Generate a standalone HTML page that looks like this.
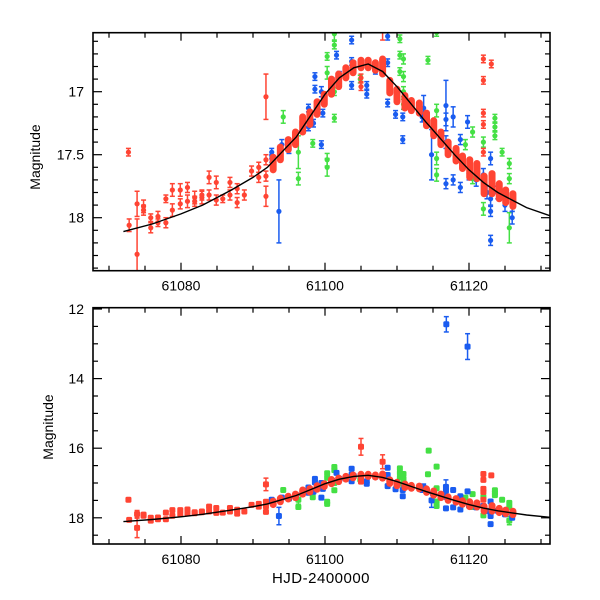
<!DOCTYPE html>
<html><head><meta charset="utf-8"><style>
html,body{margin:0;padding:0;background:#fff;}
svg{display:block;font-family:"Liberation Sans",sans-serif;}
</style></head><body>
<svg id="chart" width="600" height="600" viewBox="0 0 600 600" xmlns="http://www.w3.org/2000/svg">
<defs>
<clipPath id="clipTop"><rect x="93" y="33" width="457" height="238"/></clipPath>
<clipPath id="clipBot"><rect x="93" y="308" width="457" height="236"/></clipPath>
</defs>
<g id="topPanel"></g>
<g id="botPanel"></g>
<text x="0" y="0" transform="translate(40,157) rotate(-90)" text-anchor="middle" font-size="14">Magnitude</text>
<text x="0" y="0" transform="translate(53,427) rotate(-90)" text-anchor="middle" font-size="14">Magnitude</text>
<text x="321" y="583" text-anchor="middle" font-size="15" letter-spacing="0.5">HJD-2400000</text>
</svg>
<script>
// ---- data ----
const modelDays=[61072,61076,61080,61083,61087,61090,61092,61094,61096,61098,61100,61102,61104,61106,61108,61110,61112,61114,61116,61118,61120,61122,61124,61126,61128,61131.5];
const modelMags=[18.11,18.05,17.97,17.9,17.78,17.68,17.6,17.48,17.36,17.19,17.02,16.89,16.81,16.78,16.84,16.96,17.1,17.24,17.37,17.5,17.62,17.72,17.8,17.86,17.92,17.99];

const redDays=[61072.7,61072.8,61073.9,61073.9,61074.8,61074.8,61075.8,61075.8,61076.8,61076.8,61077.9,61077.9,61078.8,61078.8,61079.9,61079.9,61080.9,61080.9,61081.9,61081.9,61082.9,61082.9,61083.9,61083.9,61084.9,61084.9,61085.8,61086.8,61086.8,61087.8,61087.8,61088.8,61089.8,61090.8,61090.8,61091.8,61091.8,61091.8,61091.8,61105,61105,61105,61108,61122,61123.1,61122,61122,61122,61122];
const redMags=[17.48,18.06,17.89,18.29,17.91,17.94,18.0,18.08,17.99,18.04,17.85,18.04,17.78,17.94,17.78,17.89,17.76,17.87,17.84,17.87,17.82,17.84,17.68,17.82,17.72,17.86,17.85,17.72,17.82,17.77,17.88,17.82,17.63,17.6,17.68,17.04,17.54,17.67,17.83,15.96,16.89,16.96,16.39,16.74,16.78,16.91,17.17,17.26,17.48];
const redErrs=[0.03,0.05,0.1,0.28,0.05,0.04,0.03,0.04,0.04,0.03,0.03,0.04,0.05,0.05,0.05,0.04,0.04,0.05,0.05,0.04,0.04,0.05,0.05,0.04,0.05,0.04,0.03,0.04,0.04,0.04,0.04,0.04,0.04,0.04,0.04,0.18,0.04,0.04,0.08,0.24,0.03,0.03,0.2,0.03,0.03,0.03,0.03,0.03,0.03];

const clusterDays=[61092.8,61093.8,61094.9,61095.9,61096.9,61097.9,61098.9,61099.9,61100.9,61101.9,61102.9,61103.9,61105,61106,61107,61108,61109,61110,61111.1,61112,61113.1,61114.1,61115.1,61116.1,61117.1,61118.2,61119.1,61120.1,61121.1,61122.1,61123.2,61124.2,61125.1,61126.1];
const clusterMags=[17.57,17.49,17.42,17.37,17.26,17.21,17.13,17.06,16.96,16.91,16.85,16.81,16.78,16.78,16.8,16.8,16.96,17.03,17.08,17.11,17.13,17.22,17.29,17.37,17.45,17.5,17.56,17.61,17.63,17.74,17.73,17.79,17.83,17.86];
const clusterSpread=[0.05,0.05,0.04,0.05,0.06,0.05,0.05,0.04,0.06,0.05,0.04,0.04,0.03,0.03,0.03,0.06,0.05,0.05,0.05,0.04,0.04,0.05,0.06,0.05,0.05,0.05,0.05,0.07,0.06,0.07,0.08,0.06,0.05,0.05];

const blueDays=[61092.6,61092.6,61093.6,61097.7,61097.7,61098.6,61098.6,61098.4,61099.5,61099.5,61099.7,61101.6,61103.7,61103.7,61103.7,61105.8,61105.8,61108.7,61108.7,61108.7,61109.8,61110.8,61110.8,61113.7,61114.8,61116.8,61116.8,61116.8,61117.8,61117.8,61116.8,61119.8,61118.8,61118.8,61122,61123,61123,61123,61126,61126,61101,61102,61104,61107,61109,61111,61112,61113.5,61115,61120,61121,61122.5,61123,61124,61125,61095,61096,61094,61116.85,61119.8];
const blueMags=[17.48,17.53,17.95,17.13,17.28,16.88,16.98,17.25,17.0,17.42,17.17,16.71,16.59,16.76,16.95,16.95,17.02,16.56,16.77,17.09,17.18,17.38,17.2,17.13,17.5,17.11,17.22,17.4,17.2,17.7,17.73,17.24,17.38,17.76,17.66,17.53,17.95,18.18,17.9,18.0,16.93,16.88,16.8,16.82,16.98,17.1,17.1,17.2,17.3,17.65,17.7,17.8,17.85,17.8,17.9,17.45,17.35,17.42,12.44,13.08];
const blueErrs=[0.03,0.03,0.25,0.03,0.03,0.03,0.03,0.03,0.04,0.03,0.03,0.03,0.03,0.03,0.03,0.03,0.03,0.03,0.03,0.03,0.03,0.03,0.03,0.1,0.2,0.2,0.05,0.05,0.08,0.04,0.04,0.05,0.04,0.04,0.05,0.05,0.04,0.04,0.05,0.05,0.04,0.04,0.04,0.04,0.04,0.04,0.04,0.04,0.04,0.05,0.05,0.05,0.05,0.05,0.05,0.04,0.04,0.04,0.22,0.37];

const greenDays=[61094.2,61096.3,61096.3,61098.3,61100.3,61100.3,61100.3,61100.3,61101.3,61101.3,61101.3,61101.3,61104.9,61110.4,61110.4,61110.4,61110.9,61110.9,61110.9,61110.9,61114.3,61115.5,61115.5,61115.5,61119.5,61120.5,61120.5,61122,61122,61123.6,61123.6,61123.6,61124.6,61125.6,61125.6,61125.6,61114.4,61115.5];
const greenMags=[17.2,17.48,17.69,17.41,16.72,16.85,17.54,17.6,16.54,16.63,17.0,17.21,16.9,16.58,16.71,16.84,16.74,16.88,17.0,17.1,16.75,17.15,17.53,17.66,17.42,17.32,17.69,17.4,17.93,17.21,17.28,17.35,17.48,17.57,17.69,18.08,16.07,16.53];
const greenErrs=[0.05,0.13,0.05,0.03,0.03,0.05,0.05,0.07,0.05,0.03,0.03,0.03,0.03,0.03,0.03,0.03,0.04,0.04,0.04,0.04,0.03,0.05,0.05,0.05,0.04,0.04,0.04,0.04,0.05,0.03,0.03,0.03,0.03,0.04,0.04,0.12,0.03,0.03];

const xTicksMajor=[61080,61100,61120];
const topYLabels=[17,17.5,18];
const botYLabels=[12,14,16,18];

// ---- axes functions ----
const X=d=>181+(d-61080)*7.2;
const Ytop=m=>91.7+(m-17)*126;
const Ybot=m=>309+(m-12)*34.8;
const RED="#ff4433",BLUE="#1a5cf0",GREEN="#44e044";
const NS="http://www.w3.org/2000/svg";
function mk(tag,attrs,parent){const e=document.createElementNS(NS,tag);for(const k in attrs)e.setAttribute(k,attrs[k]);parent.appendChild(e);return e;}

function panel(g,Y,top,bot,clipId,yLabels,yMinorStep,yMin,yMax,isTop){
  const L=93,R=550;
  const pts=modelDays.map((d,i)=>X(d).toFixed(1)+","+Y(modelMags[i]).toFixed(1)).join(" ");
  const data=mk('g',{'clip-path':'url(#'+clipId+')'},g);
  function series(days,mags,errs,col,name){
    const sg=mk('g',{},data);
    
    
    days.forEach((d,i)=>{
      const x=X(d),y=Y(mags[i]),e=Math.abs(Y(mags[i]+errs[i])-y);
      if(isTop||e>3){
        mk('line',{x1:x,x2:x,y1:y-e,y2:y+e,stroke:col,'stroke-width':1.5},sg);
        mk('line',{x1:x-2.5,x2:x+2.5,y1:y-e,y2:y-e,stroke:col,'stroke-width':1.5},sg);
        mk('line',{x1:x-2.5,x2:x+2.5,y1:y+e,y2:y+e,stroke:col,'stroke-width':1.5},sg);
      }
      let m;
      if(isTop) m=mk('circle',{cx:x,cy:y,r:2.6,fill:col},sg);
      else m=mk('rect',{x:x-3,y:y-3,width:6,height:6,rx:1.5,fill:col},sg);
      
      
    });
  }
  series(greenDays,greenMags,greenErrs,GREEN,'green-series');
  series(blueDays,blueMags,blueErrs,BLUE,'blue-series');
  series(redDays,redMags,redErrs,RED,'red-series');
  const cg=mk('g',{},data);
  
  
  clusterDays.forEach((d,i)=>{
    const x=X(d),y1=Y(clusterMags[i]-clusterSpread[i]),y2=Y(clusterMags[i]+clusterSpread[i]);
    const c=mk('line',{x1:x,x2:x,y1:y1,y2:y2,stroke:RED,'stroke-width':7,'stroke-linecap':'round'},cg);
    
    
  });
  const ml=mk('polyline',{points:pts,fill:'none',stroke:'#000','stroke-width':1.4},data);
  
  
  const fr=mk('rect',{x:L,y:top,width:R-L,height:bot-top,fill:'none',stroke:'#000','stroke-width':1.6},g);
  
  
  for(let d=61070;d<=61130;d+=5){
    const x=X(d); if(x<L||x>R)continue;
    const len=(d%20===0)?8:5;
    mk('line',{x1:x,x2:x,y1:bot,y2:bot-len,stroke:'#000','stroke-width':1.2},g);
    mk('line',{x1:x,x2:x,y1:top,y2:top+len,stroke:'#000','stroke-width':1.2},g);
  }
  for(let m=yMin;m<=yMax+1e-6;m+=yMinorStep){
    const mm=Math.round(m*100)/100;const y=Y(mm); if(y<top-0.5||y>bot+0.5)continue;
    const major=yLabels.some(v=>Math.abs(v-mm)<1e-6);
    const len=major?9:5;
    mk('line',{x1:L,x2:L+len,y1:y,y2:y,stroke:'#000','stroke-width':1.2},g);
    mk('line',{x1:R,x2:R-len,y1:y,y2:y,stroke:'#000','stroke-width':1.2},g);
  }
  yLabels.forEach(v=>{
    const t=mk('text',{x:84,y:Y(v)+5,'text-anchor':'end','font-size':14},g);
    t.textContent=String(v);
    
    
  });
  xTicksMajor.forEach(v=>{
    const t=mk('text',{x:X(v),y:bot+20,'text-anchor':'middle','font-size':14},g);
    t.textContent=String(v);
    
    
  });
}
panel(document.getElementById('topPanel'),Ytop,32.7,270.7,'clipTop',topYLabels,0.1,16.5,18.5,true);
panel(document.getElementById('botPanel'),Ybot,307.7,544,'clipBot',botYLabels,0.5,12,19,false);
</script>
</body></html>
